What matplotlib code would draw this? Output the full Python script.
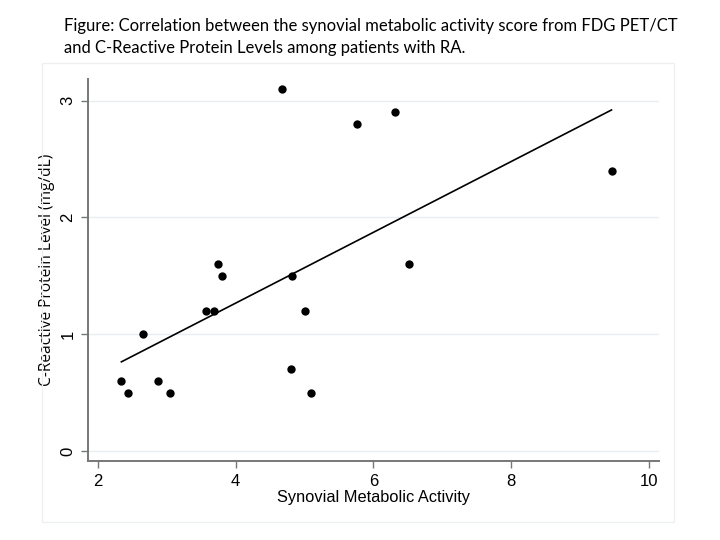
import matplotlib
matplotlib.use("Agg")
import matplotlib.pyplot as plt
from matplotlib.patches import Rectangle
import numpy as np

# synovial metabolic activity score vs CRP (mg/dL)
activity = [3.75, 3.80, 3.57, 3.68, 4.82, 5.01, 2.65, 2.34, 2.43, 2.87,
            3.05, 4.80, 5.10, 4.67, 5.77, 6.31, 9.46, 6.52]
crp = [1.6, 1.5, 1.2, 1.2, 1.5, 1.2, 1.0, 0.6, 0.5, 0.6,
       0.5, 0.7, 0.5, 3.1, 2.8, 2.9, 2.4, 1.6]

x_ticks = [2, 4, 6, 8, 10]
y_ticks = [0, 1, 2, 3]

title_lines = ["Figure: Correlation between the synovial metabolic activity score from FDG PET/CT",
               "and C-Reactive Protein Levels among patients with RA."]

fig = plt.figure(figsize=(7.2, 5.4), dpi=100)

# faint frame round the graph
fig.patches.append(Rectangle((42 / 720, 1 - 522 / 540), 632 / 720, 459 / 540,
                             transform=fig.transFigure, fill=False,
                             edgecolor="#eef0f0", linewidth=1))

# two caption lines, baselines 22 px apart
for i, line in enumerate(title_lines):
    fig.text(64 / 720, 1 - (30.7 + 22 * i) / 540, line, family="Lato",
             fontsize=12.0, ha="left", va="baseline")

ax = fig.add_axes([88 / 720, 1 - 461 / 540, 571 / 720, 382 / 540])

x = np.array(activity)
y = np.array(crp)
slope, icept = np.polyfit(x, y, 1)
xs = np.array([x.min(), x.max()])
ax.plot(xs, icept + slope * xs, color="black", linewidth=1.2, zorder=2)
ax.scatter(x, y, s=36, color="black", zorder=3, linewidths=0)

ax.set_xlim(1.855, 10.15)
ax.set_ylim(-0.086, 3.186)
ax.set_xticks(x_ticks)
ax.set_yticks(y_ticks)
ax.grid(axis="y", color="#e6eef0", linewidth=1)
ax.set_axisbelow(True)

for side in ["top", "right"]:
    ax.spines[side].set_visible(False)
for side in ["left", "bottom"]:
    ax.spines[side].set_color("#777777")
    ax.spines[side].set_linewidth(1.4)

ax.tick_params(axis="both", color="#777777", length=5, width=1, pad=4)
ax.set_xticklabels([str(t) for t in x_ticks], family="Liberation Sans", fontsize=12)
ax.set_yticklabels([str(t) for t in y_ticks], family="Liberation Sans", fontsize=12,
                   rotation=90, va="center")

ax.set_xlabel("Synovial Metabolic Activity", family="Liberation Sans", fontsize=11.8,
              labelpad=1)
ax.set_ylabel("C-Reactive Protein Level (mg/dL)", family="Open Sans", fontsize=11.2,
              labelpad=4)

fig.savefig("out.png", dpi=100)
